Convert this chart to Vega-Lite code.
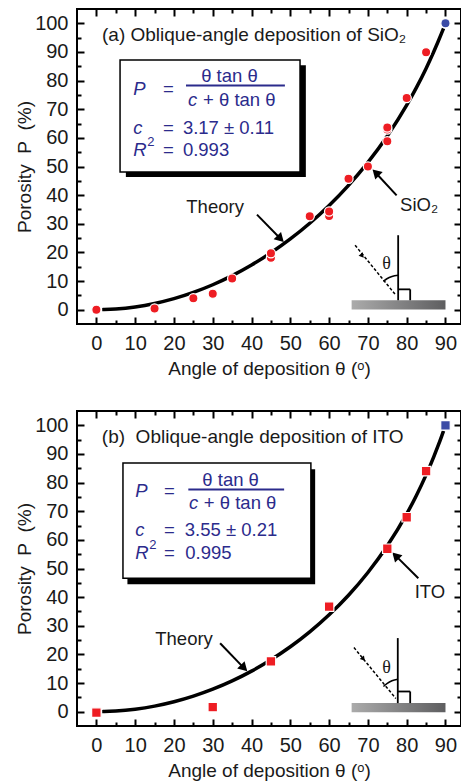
{
  "$schema": "https://vega.github.io/schema/vega-lite/v6.json",
  "padding": {"left": 14, "top": 7, "right": 0, "bottom": 0},
  "autosize": {"type": "pad"},
  "spacing": 87,
  "bounds": "flush",
  "config": {
    "view": {"stroke": "#000000", "strokeWidth": 2},
    "axis": {"domain": false, "grid": false, "tickColor": "#000000", "tickWidth": 2, "labelFont": "Liberation Sans", "labelFontSize": 20, "labelColor": "#1a1a1a", "titleFont": "Liberation Sans", "titleFontSize": 19, "titleFontWeight": "normal", "titleColor": "#1a1a1a"},
    "text": {"font": "Liberation Sans"}
  },
  "vconcat": [
    {
      "width": 384,
      "height": 315,
      "encoding": {
        "x": {"field": "x", "type": "quantitative", "scale": {"domain": [-5, 94], "nice": false, "zero": false}, "axis": null},
        "y": {"field": "y", "type": "quantitative", "scale": {"domain": [-5, 105], "nice": false, "zero": false}, "axis": null}
      },
      "layer": [
        {
          "data": {"values": [{"x": 65.8, "x2": 90, "y": 0.1, "y2": 3.3}]},
          "mark": {"type": "rect", "fill": {"gradient": "linear", "x1": 0, "y1": 0, "x2": 1, "y2": 0, "stops": [{"offset": 0, "color": "#ababab"}, {"offset": 1, "color": "#5e5e60"}]}},
          "encoding": {
            "x": {"field": "x", "type": "quantitative", "scale": {"domain": [-5, 94], "nice": false, "zero": false}, "axis": {"orient": "bottom", "values": [5, 15, 25, 35, 45, 55, 65, 75, 85], "tickSize": -4, "labels": false, "title": null}},
            "x2": {"field": "x2"},
            "y": {"field": "y", "type": "quantitative", "scale": {"domain": [-5, 105], "nice": false, "zero": false}, "axis": {"orient": "left", "values": [5, 15, 25, 35, 45, 55, 65, 75, 85, 95], "tickSize": -4, "labels": false, "title": null}},
            "y2": {"field": "y2"}
          }
        },
        {
          "data": {"values": [{"x": 77.8, "y": 3.3, "x2": 77.8, "y2": 26.0}, {"x": 77.8, "y": 7.1, "x2": 80.9, "y2": 7.1}, {"x": 80.9, "y": 7.1, "x2": 80.9, "y2": 3.3}]},
          "mark": {"type": "rule", "color": "#000000", "strokeWidth": 1.8},
          "encoding": {
            "x": {"field": "x", "type": "quantitative", "scale": {"domain": [-5, 94], "nice": false, "zero": false}, "axis": {"orient": "top", "values": [5, 15, 25, 35, 45, 55, 65, 75, 85], "tickSize": -4, "labels": false, "title": null}},
            "x2": {"field": "x2"},
            "y": {"field": "y", "type": "quantitative", "scale": {"domain": [-5, 105], "nice": false, "zero": false}, "axis": {"orient": "right", "values": [5, 15, 25, 35, 45, 55, 65, 75, 85, 95], "tickSize": -4, "labels": false, "title": null}},
            "y2": {"field": "y2"}
          }
        },
        {
          "data": {"values": [{"x": 66.7, "y": 22.5}, {"x": 77.0, "y": 5.4}]},
          "mark": {"type": "line", "color": "#000000", "strokeWidth": 1.5, "strokeDash": [3, 2]},
          "encoding": {}
        },
        {
          "data": {"values": [{"x": 74.0, "y": 9.9}, {"x": 74.9, "y": 10.8}, {"x": 76.2, "y": 11.6}, {"x": 77.8, "y": 12.0}]},
          "mark": {"type": "line", "color": "#000000", "strokeWidth": 1.5, "interpolate": "monotone"},
          "encoding": {}
        },
        {
          "data": {"values": [{"x": 68.4, "y": 19.0}]},
          "mark": {"type": "point", "shape": "triangle", "angle": 140, "size": 30, "filled": true, "color": "#000000", "opacity": 1},
          "encoding": {}
        },
        {
          "data": {"values": [{"x": 41.4, "y": 33.2, "x2": 47.6, "y2": 24.6}, {"x": 77.4, "y": 39.9, "x2": 72.0, "y2": 47.8}]},
          "mark": {"type": "rule", "color": "#000000", "strokeWidth": 2},
          "encoding": {"x2": {"field": "x2"}, "y2": {"field": "y2"}}
        },
        {
          "data": {"values": [{"x": 47.2, "y": 25.1}]},
          "mark": {"type": "point", "shape": "triangle", "angle": 135, "size": 110, "filled": true, "color": "#000000", "opacity": 1},
          "encoding": {}
        },
        {
          "data": {"values": [{"x": 72.3, "y": 47.5}]},
          "mark": {"type": "point", "shape": "triangle", "angle": 315, "size": 110, "filled": true, "color": "#000000", "opacity": 1},
          "encoding": {}
        },
        {
          "data": {"values": [{"x": 7.6, "x2": 54.0, "y": 46.3, "y2": 85.4}]},
          "mark": {"type": "rect", "color": "#000000"},
          "encoding": {"x2": {"field": "x2"}, "y2": {"field": "y2"}}
        },
        {
          "data": {"values": [{"x": 6.1, "x2": 52.5, "y": 48.1, "y2": 87.2}]},
          "mark": {"type": "rect", "fill": "#ffffff", "stroke": "#000000", "strokeWidth": 1.5},
          "encoding": {"x2": {"field": "x2"}, "y2": {"field": "y2"}}
        },
        {
          "data": {"values": [{"x": 23.1, "x2": 48.6, "y": 78.3}]},
          "mark": {"type": "rule", "color": "#2b2b8c", "strokeWidth": 2},
          "encoding": {"x2": {"field": "x2"}}
        },
        {
          "data": {"values": [{"x": 17.2, "y": 77.1, "t": "="}, {"x": 27.5, "y": 73.3, "t": "+ θ tan θ"}, {"x": 17.2, "y": 63.4, "t": "="}, {"x": 22.3, "y": 63.4, "t": "3.17 ± 0.11"}, {"x": 17.2, "y": 55.9, "t": "="}, {"x": 22.3, "y": 55.9, "t": "0.993"}]},
          "mark": {"type": "text", "align": "left", "baseline": "middle", "fontSize": 18.5, "color": "#2b2b8c", "font": "Liberation Sans"},
          "encoding": {"text": {"field": "t"}}
        },
        {
          "data": {"values": [{"x": 34.3, "y": 81.5, "t": "θ tan θ"}]},
          "mark": {"type": "text", "align": "center", "baseline": "middle", "fontSize": 18.5, "color": "#2b2b8c", "font": "Liberation Sans"},
          "encoding": {"text": {"field": "t"}}
        },
        {
          "data": {"values": [{"x": 9.5, "y": 77.1, "t": "P"}, {"x": 23.6, "y": 73.3, "t": "c"}, {"x": 9.5, "y": 63.4, "t": "c"}, {"x": 9.5, "y": 55.9, "t": "R"}]},
          "mark": {"type": "text", "align": "left", "baseline": "middle", "fontSize": 18.5, "fontStyle": "italic", "color": "#2b2b8c", "font": "Liberation Sans"},
          "encoding": {"text": {"field": "t"}}
        },
        {
          "data": {"values": [{"x": 13.1, "y": 58.7, "t": "2"}]},
          "mark": {"type": "text", "align": "left", "baseline": "middle", "fontSize": 13, "color": "#2b2b8c", "font": "Liberation Sans"},
          "encoding": {"text": {"field": "t"}}
        },
        {
          "data": {"values": [{"x": 1.45, "y": 95.9, "t": "(a) Oblique-angle deposition of SiO₂"}]},
          "mark": {"type": "text", "align": "left", "baseline": "middle", "fontSize": 19, "color": "#1a1a1a", "font": "Liberation Sans"},
          "encoding": {"text": {"field": "t"}}
        },
        {
          "data": {"values": [{"x": 30.6, "y": 35.9, "t": "Theory"}, {"x": 83.2, "y": 36.5, "t": "SiO₂"}]},
          "mark": {"type": "text", "align": "center", "baseline": "middle", "fontSize": 18.5, "color": "#1a1a1a", "font": "Liberation Sans"},
          "encoding": {"text": {"field": "t"}}
        },
        {
          "data": {"values": [{"x": 74.8, "y": 16.1, "t": "θ"}]},
          "mark": {"type": "text", "align": "center", "baseline": "middle", "fontSize": 18, "color": "#1a1a1a", "font": "Liberation Serif"},
          "encoding": {"text": {"field": "t"}}
        },
        {
          "data": {"values": [{"x": 1.5, "y": 0.02}, {"x": 2, "y": 0.04}, {"x": 5, "y": 0.24}, {"x": 10, "y": 0.96}, {"x": 15, "y": 2.17}, {"x": 20, "y": 3.85}, {"x": 25, "y": 6.03}, {"x": 30, "y": 8.71}, {"x": 35, "y": 11.89}, {"x": 40, "y": 15.6}, {"x": 45, "y": 19.86}, {"x": 50, "y": 24.7}, {"x": 55, "y": 30.19}, {"x": 60, "y": 36.39}, {"x": 65, "y": 43.42}, {"x": 70, "y": 51.43}, {"x": 75, "y": 60.65}, {"x": 80, "y": 71.41}, {"x": 82.5, "y": 77.53}, {"x": 85, "y": 84.25}, {"x": 87, "y": 90.14}, {"x": 88, "y": 93.28}, {"x": 89, "y": 96.56}, {"x": 89.5, "y": 98.26}]},
          "mark": {"type": "line", "color": "#000000", "strokeWidth": 3.5, "interpolate": "monotone"},
          "encoding": {
            "x": {"field": "x", "type": "quantitative", "scale": {"domain": [-5, 94], "nice": false, "zero": false}, "axis": {"orient": "bottom", "values": [0, 10, 20, 30, 40, 50, 60, 70, 80, 90], "tickSize": -7, "labelPadding": 16, "title": "Angle of deposition θ (ᵒ)", "titlePadding": 6}},
            "y": {"field": "y", "type": "quantitative", "scale": {"domain": [-5, 105], "nice": false, "zero": false}, "axis": {"orient": "left", "values": [0, 10, 20, 30, 40, 50, 60, 70, 80, 90, 100], "tickSize": -7, "labelPadding": 16, "title": "Porosity\u00a0 P\u00a0 (%)", "titlePadding": 0}}
          }
        },
        {
          "data": {"values": [{"x": 0, "y": 0, "k": "measured"}, {"x": 15, "y": 0.4, "k": "measured"}, {"x": 25, "y": 4.0, "k": "measured"}, {"x": 30, "y": 5.6, "k": "measured"}, {"x": 35, "y": 10.9, "k": "measured"}, {"x": 45, "y": 18.1, "k": "measured"}, {"x": 45, "y": 19.7, "k": "measured"}, {"x": 55, "y": 32.6, "k": "measured"}, {"x": 60, "y": 32.7, "k": "measured"}, {"x": 60, "y": 34.3, "k": "measured"}, {"x": 65, "y": 45.7, "k": "measured"}, {"x": 70, "y": 50.0, "k": "measured"}, {"x": 75, "y": 58.8, "k": "measured"}, {"x": 75, "y": 62.9, "k": "measured"}, {"x": 75, "y": 63.6, "k": "measured"}, {"x": 80, "y": 73.9, "k": "measured"}, {"x": 85, "y": 89.9, "k": "measured"}, {"x": 90, "y": 100, "k": "limit"}]},
          "mark": {"type": "point", "shape": "circle", "filled": true, "size": 85, "opacity": 1, "stroke": "#ffffff", "strokeWidth": 1.2},
          "encoding": {
            "x": {"field": "x", "type": "quantitative", "scale": {"domain": [-5, 94], "nice": false, "zero": false}, "axis": {"orient": "top", "values": [0, 10, 20, 30, 40, 50, 60, 70, 80, 90], "tickSize": -7, "labels": false, "title": null}},
            "y": {"field": "y", "type": "quantitative", "scale": {"domain": [-5, 105], "nice": false, "zero": false}, "axis": {"orient": "right", "values": [0, 10, 20, 30, 40, 50, 60, 70, 80, 90, 100], "tickSize": -7, "labels": false, "title": null}},
            "fill": {"field": "k", "type": "nominal", "scale": {"domain": ["measured", "limit"], "range": ["#ee1d23", "#3b4ba6"]}, "legend": null}
          }
        }
      ]
    },
    {
      "width": 384,
      "height": 315,
      "encoding": {
        "x": {"field": "x", "type": "quantitative", "scale": {"domain": [-5, 94], "nice": false, "zero": false}, "axis": null},
        "y": {"field": "y", "type": "quantitative", "scale": {"domain": [-5, 105], "nice": false, "zero": false}, "axis": null}
      },
      "layer": [
        {
          "data": {"values": [{"x": 65.8, "x2": 90, "y": -0.2, "y2": 3.0}]},
          "mark": {"type": "rect", "fill": {"gradient": "linear", "x1": 0, "y1": 0, "x2": 1, "y2": 0, "stops": [{"offset": 0, "color": "#ababab"}, {"offset": 1, "color": "#5e5e60"}]}},
          "encoding": {
            "x": {"field": "x", "type": "quantitative", "scale": {"domain": [-5, 94], "nice": false, "zero": false}, "axis": {"orient": "bottom", "values": [5, 15, 25, 35, 45, 55, 65, 75, 85], "tickSize": -4, "labels": false, "title": null}},
            "x2": {"field": "x2"},
            "y": {"field": "y", "type": "quantitative", "scale": {"domain": [-5, 105], "nice": false, "zero": false}, "axis": {"orient": "left", "values": [5, 15, 25, 35, 45, 55, 65, 75, 85, 95], "tickSize": -4, "labels": false, "title": null}},
            "y2": {"field": "y2"}
          }
        },
        {
          "data": {"values": [{"x": 77.7, "y": 3.0, "x2": 77.7, "y2": 25.7}, {"x": 77.7, "y": 7.05, "x2": 80.9, "y2": 7.05}, {"x": 80.9, "y": 7.05, "x2": 80.9, "y2": 3.0}]},
          "mark": {"type": "rule", "color": "#000000", "strokeWidth": 1.8},
          "encoding": {
            "x": {"field": "x", "type": "quantitative", "scale": {"domain": [-5, 94], "nice": false, "zero": false}, "axis": {"orient": "top", "values": [5, 15, 25, 35, 45, 55, 65, 75, 85], "tickSize": -4, "labels": false, "title": null}},
            "x2": {"field": "x2"},
            "y": {"field": "y", "type": "quantitative", "scale": {"domain": [-5, 105], "nice": false, "zero": false}, "axis": {"orient": "right", "values": [5, 15, 25, 35, 45, 55, 65, 75, 85, 95], "tickSize": -4, "labels": false, "title": null}},
            "y2": {"field": "y2"}
          }
        },
        {
          "data": {"values": [{"x": 66.4, "y": 22.4}, {"x": 77.2, "y": 4.6}]},
          "mark": {"type": "line", "color": "#000000", "strokeWidth": 1.5, "strokeDash": [3, 2]},
          "encoding": {}
        },
        {
          "data": {"values": [{"x": 74.0, "y": 8.8}, {"x": 74.9, "y": 9.8}, {"x": 76.2, "y": 10.8}, {"x": 77.7, "y": 11.3}]},
          "mark": {"type": "line", "color": "#000000", "strokeWidth": 1.5, "interpolate": "monotone"},
          "encoding": {}
        },
        {
          "data": {"values": [{"x": 68.7, "y": 18.6}]},
          "mark": {"type": "point", "shape": "triangle", "angle": 140, "size": 30, "filled": true, "color": "#000000", "opacity": 1},
          "encoding": {}
        },
        {
          "data": {"values": [{"x": 31.9, "y": 23.9, "x2": 38.0, "y2": 15.3}, {"x": 83.0, "y": 46.6, "x2": 77.2, "y2": 54.4}]},
          "mark": {"type": "rule", "color": "#000000", "strokeWidth": 2},
          "encoding": {"x2": {"field": "x2"}, "y2": {"field": "y2"}}
        },
        {
          "data": {"values": [{"x": 37.8, "y": 15.6}]},
          "mark": {"type": "point", "shape": "triangle", "angle": 135, "size": 110, "filled": true, "color": "#000000", "opacity": 1},
          "encoding": {}
        },
        {
          "data": {"values": [{"x": 77.4, "y": 54.1}]},
          "mark": {"type": "point", "shape": "triangle", "angle": 315, "size": 110, "filled": true, "color": "#000000", "opacity": 1},
          "encoding": {}
        },
        {
          "data": {"values": [{"x": 8.0, "x2": 56.4, "y": 44.5, "y2": 84.7}]},
          "mark": {"type": "rect", "color": "#000000"},
          "encoding": {"x2": {"field": "x2"}, "y2": {"field": "y2"}}
        },
        {
          "data": {"values": [{"x": 6.85, "x2": 55.3, "y": 46.6, "y2": 86.8}]},
          "mark": {"type": "rect", "fill": "#ffffff", "stroke": "#000000", "strokeWidth": 1.5},
          "encoding": {"x2": {"field": "x2"}, "y2": {"field": "y2"}}
        },
        {
          "data": {"values": [{"x": 23.7, "x2": 48.4, "y": 77.6}]},
          "mark": {"type": "rule", "color": "#2b2b8c", "strokeWidth": 2},
          "encoding": {"x2": {"field": "x2"}}
        },
        {
          "data": {"values": [{"x": 17.4, "y": 77.1, "t": "="}, {"x": 27.7, "y": 73.0, "t": "+ θ tan θ"}, {"x": 17.4, "y": 63.3, "t": "="}, {"x": 22.8, "y": 63.3, "t": "3.55 ± 0.21"}, {"x": 17.4, "y": 55.3, "t": "="}, {"x": 22.9, "y": 55.3, "t": "0.995"}]},
          "mark": {"type": "text", "align": "left", "baseline": "middle", "fontSize": 18.5, "color": "#2b2b8c", "font": "Liberation Sans"},
          "encoding": {"text": {"field": "t"}}
        },
        {
          "data": {"values": [{"x": 34.6, "y": 81.0, "t": "θ tan θ"}]},
          "mark": {"type": "text", "align": "center", "baseline": "middle", "fontSize": 18.5, "color": "#2b2b8c", "font": "Liberation Sans"},
          "encoding": {"text": {"field": "t"}}
        },
        {
          "data": {"values": [{"x": 10.0, "y": 77.1, "t": "P"}, {"x": 23.9, "y": 73.0, "t": "c"}, {"x": 10.0, "y": 63.3, "t": "c"}, {"x": 10.0, "y": 55.3, "t": "R"}]},
          "mark": {"type": "text", "align": "left", "baseline": "middle", "fontSize": 18.5, "fontStyle": "italic", "color": "#2b2b8c", "font": "Liberation Sans"},
          "encoding": {"text": {"field": "t"}}
        },
        {
          "data": {"values": [{"x": 13.6, "y": 58.1, "t": "2"}]},
          "mark": {"type": "text", "align": "left", "baseline": "middle", "fontSize": 13, "color": "#2b2b8c", "font": "Liberation Sans"},
          "encoding": {"text": {"field": "t"}}
        },
        {
          "data": {"values": [{"x": 1.4, "y": 95.8, "t": "(b)\u00a0 Oblique-angle deposition of ITO"}]},
          "mark": {"type": "text", "align": "left", "baseline": "middle", "fontSize": 19, "color": "#1a1a1a", "font": "Liberation Sans"},
          "encoding": {"text": {"field": "t"}}
        },
        {
          "data": {"values": [{"x": 22.6, "y": 25.3, "t": "Theory"}, {"x": 86.0, "y": 41.7, "t": "ITO"}]},
          "mark": {"type": "text", "align": "center", "baseline": "middle", "fontSize": 18.5, "color": "#1a1a1a", "font": "Liberation Sans"},
          "encoding": {"text": {"field": "t"}}
        },
        {
          "data": {"values": [{"x": 74.8, "y": 15.4, "t": "θ"}]},
          "mark": {"type": "text", "align": "center", "baseline": "middle", "fontSize": 18, "color": "#1a1a1a", "font": "Liberation Serif"},
          "encoding": {"text": {"field": "t"}}
        },
        {
          "data": {"values": [{"x": 1.5, "y": 0.02}, {"x": 2, "y": 0.03}, {"x": 5, "y": 0.21}, {"x": 10, "y": 0.86}, {"x": 15, "y": 1.94}, {"x": 20, "y": 3.46}, {"x": 25, "y": 5.42}, {"x": 30, "y": 7.85}, {"x": 35, "y": 10.75}, {"x": 40, "y": 14.16}, {"x": 45, "y": 18.12}, {"x": 50, "y": 22.66}, {"x": 55, "y": 27.86}, {"x": 60, "y": 33.82}, {"x": 65, "y": 40.66}, {"x": 70, "y": 48.6}, {"x": 75, "y": 57.92}, {"x": 80, "y": 69.05}, {"x": 82.5, "y": 75.5}, {"x": 85, "y": 82.69}, {"x": 87, "y": 89.09}, {"x": 88, "y": 92.53}, {"x": 89, "y": 96.16}, {"x": 89.5, "y": 98.06}]},
          "mark": {"type": "line", "color": "#000000", "strokeWidth": 3.5, "interpolate": "monotone"},
          "encoding": {
            "x": {"field": "x", "type": "quantitative", "scale": {"domain": [-5, 94], "nice": false, "zero": false}, "axis": {"orient": "bottom", "values": [0, 10, 20, 30, 40, 50, 60, 70, 80, 90], "tickSize": -7, "labelPadding": 16, "title": "Angle of deposition θ (ᵒ)", "titlePadding": 6}},
            "y": {"field": "y", "type": "quantitative", "scale": {"domain": [-5, 105], "nice": false, "zero": false}, "axis": {"orient": "left", "values": [0, 10, 20, 30, 40, 50, 60, 70, 80, 90, 100], "tickSize": -7, "labelPadding": 16, "title": "Porosity\u00a0 P\u00a0 (%)", "titlePadding": 0}}
          }
        },
        {
          "data": {"values": [{"x": 0, "y": -0.3, "k": "measured"}, {"x": 30, "y": 1.6, "k": "measured"}, {"x": 45, "y": 17.6, "k": "measured"}, {"x": 60, "y": 36.7, "k": "measured"}, {"x": 75, "y": 56.9, "k": "measured"}, {"x": 80, "y": 67.9, "k": "measured"}, {"x": 85, "y": 84.0, "k": "measured"}, {"x": 90, "y": 100, "k": "limit"}]},
          "mark": {"type": "point", "shape": "square", "filled": true, "size": 90, "opacity": 1, "stroke": "#ffffff", "strokeWidth": 1.2},
          "encoding": {
            "x": {"field": "x", "type": "quantitative", "scale": {"domain": [-5, 94], "nice": false, "zero": false}, "axis": {"orient": "top", "values": [0, 10, 20, 30, 40, 50, 60, 70, 80, 90], "tickSize": -7, "labels": false, "title": null}},
            "y": {"field": "y", "type": "quantitative", "scale": {"domain": [-5, 105], "nice": false, "zero": false}, "axis": {"orient": "right", "values": [0, 10, 20, 30, 40, 50, 60, 70, 80, 90, 100], "tickSize": -7, "labels": false, "title": null}},
            "fill": {"field": "k", "type": "nominal", "scale": {"domain": ["measured", "limit"], "range": ["#ee1d23", "#3b4ba6"]}, "legend": null}
          }
        }
      ]
    }
  ]
}
